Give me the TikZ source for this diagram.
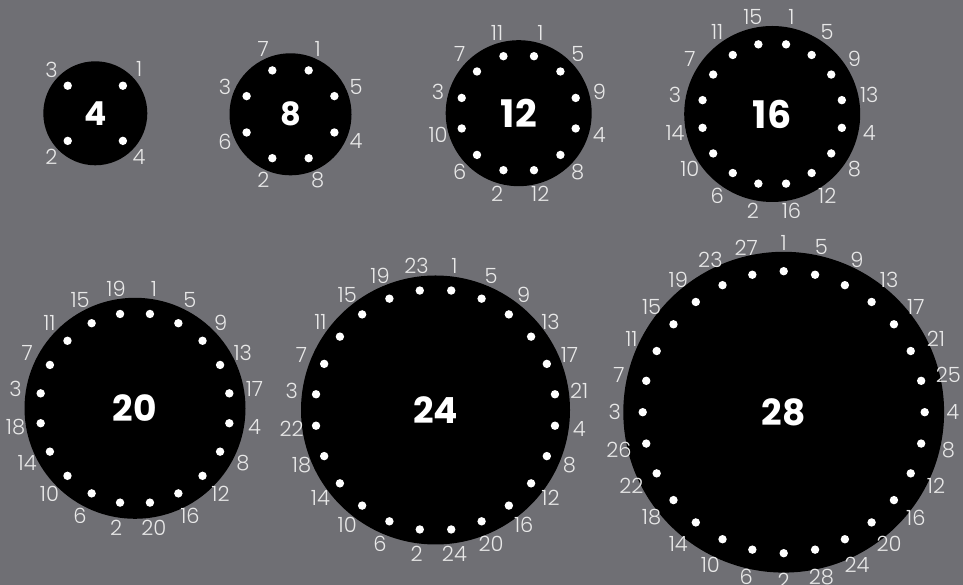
\documentclass[tikz,border=0pt]{standalone}
\usepackage{fontspec}
\setmainfont{Poppins}
\newfontfamily\labfont{Poppins Light}
\usetikzlibrary{calc}
\definecolor{bg}{RGB}{111,111,116}
\definecolor{labc}{RGB}{232,232,232}
\tikzset{
  disc/.style={circle, fill=black, inner sep=0pt, text=white},
  numlab/.style={text=labc, inner sep=0pt, font=\labfont\fontsize{21}{21}\selectfont},
}
% name, cx, cy, R, dot radius, label radius, n, angular offset, centre font size
\newcommand\mydial[9]{%
  \node[disc, minimum size=#4*2pt, font=\bfseries\fontsize{#9}{#9}\selectfont] (#1) at (#2,#3) {#7};
  \pgfmathtruncatemacro\mm{#7/4}%
  \pgfmathtruncatemacro\nn{#7-1}%
  \foreach \i in {0,...,\nn} {
    \pgfmathtruncatemacro\q{floor(\i/\mm)}
    \pgfmathtruncatemacro\lab{(\q==0)*1+(\q==1)*4+(\q==2)*2+(\q==3)*3+4*(\i-\q*\mm)}
    \pgfmathsetmacro\ang{90-(\i+#8)*360/#7}
    \fill[white] (#1.center) ++(\ang:#5) circle (4.2);
    \node[numlab] (#1-l\lab) at ($(#1.center)+(\ang:#6)$) {\lab};
  }
}
\begin{document}
\begin{tikzpicture}[x=1pt,y=1pt]
\useasboundingbox (0,0) rectangle (963,585);
\fill[bg] (0,0) rectangle (963,585);
\mydial{c4}{95.3}{471.7}{52}{39}{62}{4}{0.5}{33}
\mydial{c8}{290.5}{470.7}{61}{47.5}{71}{8}{0.5}{32}
\mydial{c12}{518.7}{471.8}{73}{59}{83.5}{12}{0.5}{38}
\mydial{c16}{772.2}{471}{88}{71}{99}{16}{0.5}{38}
\mydial{c20}{135}{176.7}{110.5}{95.5}{121}{20}{0.5}{36}
\mydial{c24}{435.5}{175}{134.5}{120.5}{145}{24}{0.5}{36}
\mydial{c28}{783.7}{172.8}{160.4}{141}{169}{28}{0}{36}
\end{tikzpicture}
\end{document}
